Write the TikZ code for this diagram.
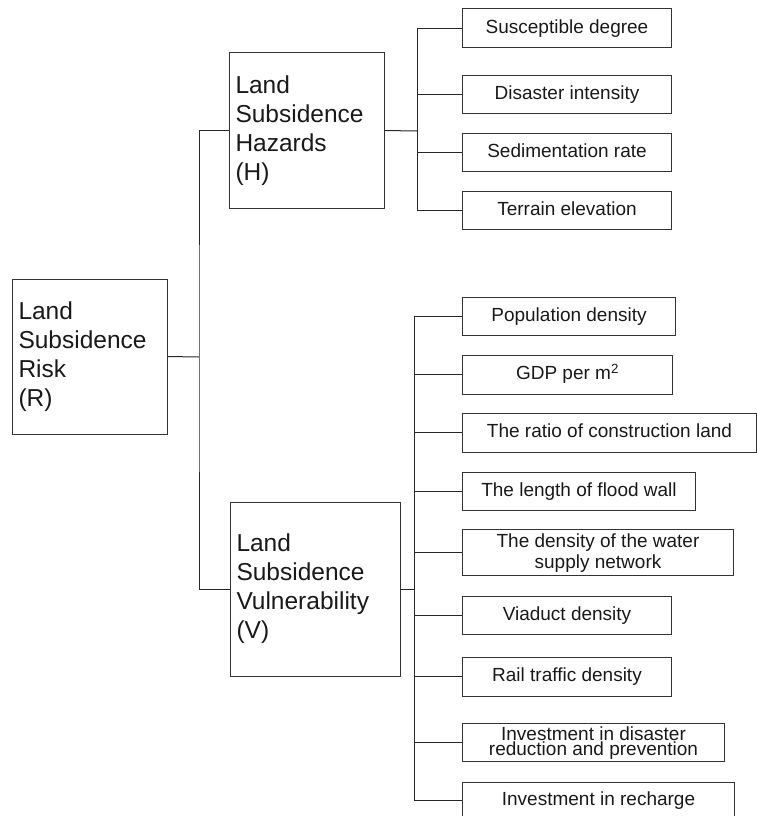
\documentclass[tikz,border=0pt]{standalone}
\usepackage{fontspec}
\setmainfont{Liberation Sans}
\usepackage{tikz}

\begin{document}
\begin{tikzpicture}[x=1pt,y=-1pt,line width=1pt,
  bigbox/.style={draw=black!80,anchor=center,align=left,inner xsep=6.5pt,
    font=\fontsize{24.5}{29}\selectfont,text=black!90},
  leafbox/.style={draw=black!80,anchor=west,align=center,inner sep=0pt,
    font=\fontsize{19}{22}\selectfont,text=black!90,text height=14pt,text depth=4pt},
  link/.style={draw=black!85}]
\useasboundingbox (0,0) rectangle (757,816);
% main boxes
\node[bigbox,text width=142pt,minimum width=155pt,minimum height=155pt] (risk) at (89.5,356.5){Land\\Subsidence\\Risk\\(R)};
\node[bigbox,text width=142pt,minimum width=155pt,minimum height=155pt] (haz) at (306.5,130.5){Land\\Subsidence\\Hazards\\(H)};
\node[bigbox,text width=157pt,minimum width=170pt,minimum height=174pt] (vul) at (315,589){Land\\Subsidence\\Vulnerability\\(V)};
% hazard factors
\node[leafbox,minimum width=209pt,minimum height=39pt] (h1) at (462,28.5){Susceptible degree};
\node[leafbox,minimum width=209pt,minimum height=38pt] (h2) at (462,94){Disaster intensity};
\node[leafbox,minimum width=209pt,minimum height=38pt] (h3) at (462,152){Sedimentation rate};
\node[leafbox,minimum width=209pt,minimum height=38pt] (h4) at (462,210){Terrain elevation};
% vulnerability factors
\node[leafbox,minimum width=213pt,minimum height=38pt] (v1) at (462,316){Population density};
\node[leafbox,minimum width=210pt,minimum height=39pt] (v2) at (462,374.5){GDP per m\textsuperscript{2}};
\node[leafbox,minimum width=294pt,minimum height=39pt] (v3) at (462,432.5){The ratio of construction land};
\node[leafbox,minimum width=233pt,minimum height=38pt] (v4) at (462,491){The length of flood wall};
\node[leafbox,minimum width=271pt,minimum height=46pt,font=\fontsize{19}{21}\selectfont,
  text height=39pt,text depth=7pt] (v5) at (462,552){The density of the water\\supply network};
\node[leafbox,minimum width=209pt,minimum height=38pt] (v6) at (462,615){Viaduct density};
\node[leafbox,minimum width=209pt,minimum height=39pt] (v7) at (462,676.5){Rail traffic density};
\node[leafbox,minimum width=262pt,minimum height=38pt,font=\fontsize{19}{15}\selectfont,
  text height=32pt,text depth=6pt] (v8) at (462,742){Investment in disaster\\reduction and prevention};
\node[leafbox,minimum width=272pt,minimum height=36pt] (v9) at (462,800){Investment in recharge};
% connectors
\coordinate (jR) at (199,357);
\coordinate (jH) at (417,131);
\coordinate (jV) at (414,589);
\draw[link] (risk.east) -- (jR);
\draw[link] (haz.west) -| (jR) |- (vul.west);
\draw[link] (haz.east) -- (jH);
\foreach \i in {1,...,4}
  \draw[link] (h\i.west) -| (jH);
\draw[link] (vul.east) -- (jV);
\foreach \i in {1,...,9}
  \draw[link] (v\i.west) -| (jV);
\end{tikzpicture}
\end{document}
